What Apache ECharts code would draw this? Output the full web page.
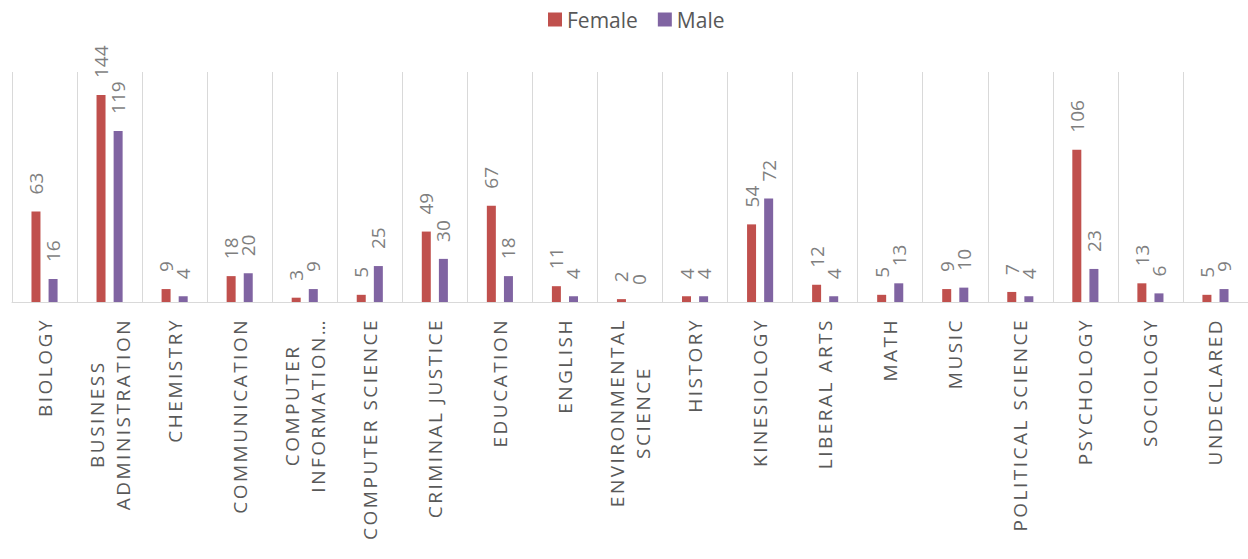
<!DOCTYPE html>
<html>
<head>
<meta charset="utf-8">
<script src="https://cdn.jsdelivr.net/npm/echarts@6/dist/echarts.min.js"></script>
<style>
html,body{margin:0;padding:0;background:#fff;}
#chart{width:1248px;height:559px;}
text[style*="Arial"]{letter-spacing:2.5px;}
</style>
</head>
<body>
<div id="chart"></div>
<script>
const categories = [
  'BIOLOGY', 'BUSINESS\nADMINISTRATION', 'CHEMISTRY', 'COMMUNICATION',
  'COMPUTER\nINFORMATION…', 'COMPUTER SCIENCE', 'CRIMINAL JUSTICE', 'EDUCATION',
  'ENGLISH', 'ENVIRONMENTAL\nSCIENCE', 'HISTORY', 'KINESIOLOGY', 'LIBERAL ARTS',
  'MATH', 'MUSIC', 'POLITICAL SCIENCE', 'PSYCHOLOGY', 'SOCIOLOGY', 'UNDECLARED'
];
const femaleValues = [63, 144, 9, 18, 3, 5, 49, 67, 11, 2, 4, 54, 12, 5, 9, 7, 106, 13, 5];
const maleValues   = [16, 119, 4, 20, 9, 25, 30, 18, 4, 0, 4, 72, 4, 13, 10, 4, 23, 6, 9];
const seriesNames = ['Female', 'Male'];

const AXIS_SPACING = 2.5;
const measureCtx = document.createElement('canvas').getContext('2d');
echarts.setPlatformAPI({
  measureText(text, font) {
    measureCtx.font = font;
    const m = measureCtx.measureText(text);
    if (font && font.indexOf('Arial') >= 0) {
      return { width: m.width + AXIS_SPACING * Array.from(text).length };
    }
    return m;
  }
});

const chart = echarts.init(document.getElementById('chart'), null, { renderer: 'svg' });

const labelStyle = {
  show: true,
  position: 'top',
  rotate: 90,
  align: 'left',
  verticalAlign: 'middle',
  distance: 17,
  fontFamily: 'Open Sans',
  fontSize: 19,
  color: '#7f7f7f'
};

chart.setOption({
  animation: false,
  backgroundColor: '#ffffff',
  legend: {
    data: seriesNames,
    left: 543,
    top: 4,
    icon: 'rect',
    itemWidth: 14,
    itemHeight: 14,
    itemGap: 20,
    textStyle: { fontFamily: 'Open Sans', fontSize: 21, color: '#585858' }
  },
  grid: { left: 12, top: 72, width: 1241, height: 230, containLabel: false },
  xAxis: {
    type: 'category',
    data: categories,
    axisLine: { show: true, lineStyle: { color: '#d9d9d9', width: 1 } },
    axisTick: { show: false },
    splitLine: { show: true, interval: 0, lineStyle: { color: '#d9d9d9', width: 1 } },
    axisLabel: {
      interval: 0,
      rotate: 90,
      margin: 16,
      fontFamily: "'Open Sans', Arial",
      fontSize: 19,
      color: '#595959',
      formatter: v => v.split('\n').map(l => '{c|' + l + '}').join('\n'),
      rich: {
        c: { align: 'center', fontFamily: "'Open Sans', Arial", fontSize: 19, color: '#595959', lineHeight: 26 }
      }
    }
  },
  yAxis: {
    type: 'value',
    min: 0,
    max: 160,
    show: false,
    splitLine: { show: false }
  },
  series: [
    {
      name: seriesNames[0],
      type: 'bar',
      data: femaleValues,
      barWidth: 9,
      barGap: '90%',
      itemStyle: { color: '#C0504D' },
      label: labelStyle
    },
    {
      name: seriesNames[1],
      type: 'bar',
      data: maleValues,
      barWidth: 9,
      barGap: '90%',
      itemStyle: { color: '#8064A2' },
      label: labelStyle
    }
  ]
});
</script>
</body>
</html>
